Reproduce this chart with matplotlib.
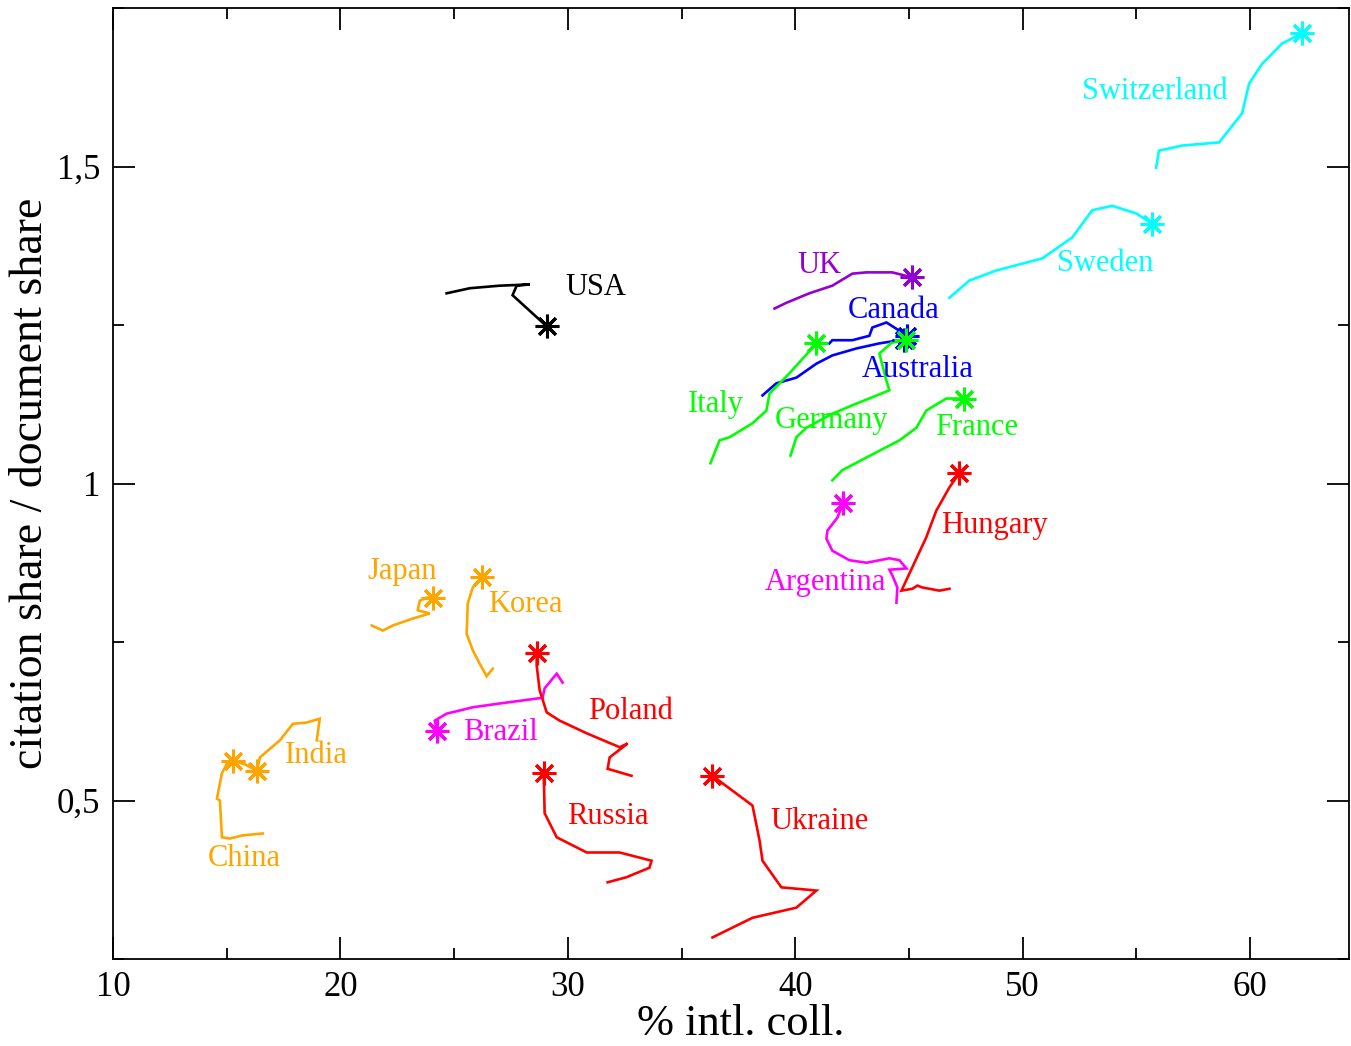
import matplotlib
matplotlib.use('Agg')
import matplotlib.pyplot as plt
from matplotlib.ticker import MultipleLocator, FuncFormatter

# trajectories: % intl. collaboration vs citation share / document share
usa_x = [24.67, 25.69, 27.00, 28.32, 27.75, 27.57, 29.07]
usa_y = [1.300, 1.308, 1.312, 1.314, 1.312, 1.297, 1.248]

uk_x = [39.09, 39.61, 40.62, 41.63, 42.51, 43.13, 44.27, 45.15]
uk_y = [1.276, 1.285, 1.300, 1.312, 1.331, 1.333, 1.333, 1.325]

canada_x = [41.50, 41.63, 42.51, 43.26, 43.39, 44.01, 44.58, 44.93]
canada_y = [1.221, 1.226, 1.226, 1.233, 1.246, 1.254, 1.241, 1.232]

australia_x = [38.56, 39.17, 40.05, 40.93, 41.63, 42.69, 43.70, 44.58, 44.80]
australia_y = [1.139, 1.158, 1.167, 1.189, 1.202, 1.213, 1.221, 1.226, 1.226]

italy_x = [36.27, 36.67, 37.11, 38.12, 38.73, 38.87, 39.75, 40.93]
italy_y = [1.032, 1.068, 1.073, 1.095, 1.115, 1.142, 1.174, 1.221]

germany_x = [39.79, 40.05, 40.49, 41.63, 42.69, 44.14, 44.01, 43.70, 44.23, 44.89]
germany_y = [1.044, 1.073, 1.088, 1.110, 1.126, 1.147, 1.162, 1.205, 1.222, 1.226]

france_x = [41.63, 42.07, 43.13, 44.58, 45.33, 45.76, 46.64, 47.43]
france_y = [1.005, 1.021, 1.041, 1.068, 1.088, 1.115, 1.134, 1.134]

argentina_x = [44.45, 44.49, 44.27, 44.14, 44.89, 44.58, 44.14, 43.13, 42.38,
               41.63, 41.37, 41.42, 41.85, 42.12]
argentina_y = [0.812, 0.836, 0.855, 0.864, 0.866, 0.879, 0.882, 0.875, 0.879,
               0.894, 0.913, 0.926, 0.946, 0.970]

hungary_x = [46.78, 46.34, 45.59, 45.37, 45.15, 44.67, 45.76, 46.20, 46.78, 47.21]
hungary_y = [0.834, 0.831, 0.836, 0.839, 0.834, 0.831, 0.915, 0.957, 0.994, 1.016]

japan_x = [21.38, 21.86, 22.30, 23.18, 23.93, 23.40, 23.49, 23.80, 24.06]
japan_y = [0.776, 0.768, 0.776, 0.787, 0.795, 0.800, 0.815, 0.820, 0.819]

korea_x = [26.70, 26.43, 26.12, 25.82, 25.55, 25.60, 25.82, 26.21]
korea_y = [0.708, 0.696, 0.716, 0.737, 0.763, 0.811, 0.836, 0.852]

india_x = [18.96, 19.09, 18.52, 17.91, 17.34, 16.46, 16.33]
india_y = [0.595, 0.629, 0.623, 0.621, 0.595, 0.568, 0.547]

china_x = [16.59, 15.71, 15.14, 14.79, 14.70, 14.57, 14.79, 15.01, 15.27, 15.80, 16.33]
china_y = [0.448, 0.445, 0.440, 0.442, 0.500, 0.503, 0.543, 0.558, 0.563, 0.557, 0.547]

brazil_x = [29.77, 29.51, 28.98, 28.89, 27.00, 25.82, 24.67, 24.15, 24.24]
brazil_y = [0.686, 0.700, 0.677, 0.662, 0.653, 0.647, 0.637, 0.626, 0.610]

poland_x = [32.80, 31.75, 31.84, 32.63, 32.28, 30.83, 29.64, 29.07, 28.76, 28.63, 28.63]
poland_y = [0.539, 0.550, 0.568, 0.590, 0.584, 0.606, 0.626, 0.639, 0.674, 0.713, 0.732]

russia_x = [31.75, 32.58, 33.59, 33.68, 32.28, 30.83, 29.51, 28.98, 28.94]
russia_y = [0.371, 0.379, 0.394, 0.405, 0.418, 0.418, 0.442, 0.480, 0.543]

ukraine_x = [36.36, 38.12, 40.05, 40.93, 39.39, 38.56, 38.43, 38.12, 36.36]
ukraine_y = [0.284, 0.315, 0.331, 0.358, 0.363, 0.405, 0.437, 0.492, 0.539]

switzerland_x = [55.87, 55.99, 57.01, 58.64, 59.65, 59.96, 60.53, 61.41, 62.28]
switzerland_y = [1.498, 1.525, 1.533, 1.538, 1.584, 1.631, 1.662, 1.694, 1.710]

sweden_x = [46.78, 47.65, 48.84, 50.86, 52.18, 53.06, 53.94, 54.99, 55.69]
sweden_y = [1.293, 1.320, 1.336, 1.355, 1.388, 1.431, 1.438, 1.426, 1.410]

# star = latest year
star_x = [29.07, 45.15, 44.93, 44.80, 40.93, 44.89, 47.43, 42.12, 47.21, 24.06,
          26.21, 16.33, 15.27, 24.24, 28.63, 28.94, 36.36, 62.28, 55.69]
star_y = [1.248, 1.325, 1.232, 1.226, 1.221, 1.226, 1.134, 0.970, 1.016, 0.819,
          0.852, 0.547, 0.563, 0.610, 0.732, 0.543, 0.539, 1.710, 1.410]

countries = ['USA', 'UK', 'Canada', 'Australia', 'Italy', 'Germany', 'France',
             'Argentina', 'Hungary', 'Japan', 'Korea', 'India', 'China', 'Brazil',
             'Poland', 'Russia', 'Ukraine', 'Switzerland', 'Sweden']

BLACK, VIOLET, BLUE, GREEN = '#000000', '#9400D3', '#0000FF', '#00FF00'
MAGENTA, RED, ORANGE, CYAN = '#FF00FF', '#FF0000', '#FFA500', '#00FFFF'
colors = [BLACK, VIOLET, BLUE, BLUE, GREEN, GREEN, GREEN, MAGENTA, RED, ORANGE,
          ORANGE, ORANGE, ORANGE, MAGENTA, RED, RED, RED, CYAN, CYAN]

tracks = [(usa_x, usa_y), (uk_x, uk_y), (canada_x, canada_y),
          (australia_x, australia_y), (italy_x, italy_y), (germany_x, germany_y),
          (france_x, france_y), (argentina_x, argentina_y), (hungary_x, hungary_y),
          (japan_x, japan_y), (korea_x, korea_y), (india_x, india_y),
          (china_x, china_y), (brazil_x, brazil_y), (poland_x, poland_y),
          (russia_x, russia_y), (ukraine_x, ukraine_y),
          (switzerland_x, switzerland_y), (sweden_x, sweden_y)]

# label anchors (left edge, vertical centre)
label_pos = [(29.88, 1.309), (40.10, 1.344), (42.29, 1.273), (42.91, 1.180),
             (35.26, 1.125), (39.09, 1.099), (46.16, 1.088), (38.65, 0.844),
             (46.42, 0.934), (21.20, 0.861), (26.48, 0.809), (17.56, 0.571),
             (14.17, 0.409), (25.38, 0.607), (30.87, 0.640), (29.95, 0.475),
             (38.91, 0.467), (52.62, 1.618), (51.52, 1.347)]

plt.rcParams['font.family'] = ['Liberation Serif', 'DejaVu Serif']

fig = plt.figure(figsize=(13.51, 10.46), dpi=100)
ax = fig.add_axes([113/1351, 1-959/1046, 1236/1351, 951/1046])

for (xs, ys), c in zip(tracks, colors):
    ax.plot(xs, ys, color=c, lw=1.9, solid_joinstyle='miter')

for i in range(len(countries)):
    ax.plot(star_x[i], star_y[i], marker=(8, 2, 0), ms=17, mew=2.2,
            color=colors[i], ls='none')
    ax.text(label_pos[i][0], label_pos[i][1], countries[i], color=colors[i],
            fontsize=22, ha='left', va='center')

ax.set_xlim(10, 64.35)
ax.set_ylim(0.25, 1.75)
ax.xaxis.set_major_locator(MultipleLocator(10))
ax.xaxis.set_minor_locator(MultipleLocator(5))
ax.yaxis.set_major_locator(MultipleLocator(0.5))
ax.yaxis.set_minor_locator(MultipleLocator(0.25))
ax.yaxis.set_major_formatter(FuncFormatter(lambda v, p: ('%g' % v).replace('.', ',')))
ax.tick_params(which='both', direction='in', top=True, right=True, width=1.3)
ax.tick_params(which='major', length=16, labelsize=25, pad=9)
ax.tick_params(which='minor', length=8)
for s in ax.spines.values():
    s.set_linewidth(1.3)

ax.set_xlabel('% intl. coll.', fontsize=32, labelpad=0)
ax.xaxis.set_label_coords(0.508, -0.047, transform=ax.transAxes)
ax.xaxis.label.set_va('top')
ax.set_ylabel('citation share / document share', fontsize=33, labelpad=4)

fig.savefig('out.png', dpi=100)
